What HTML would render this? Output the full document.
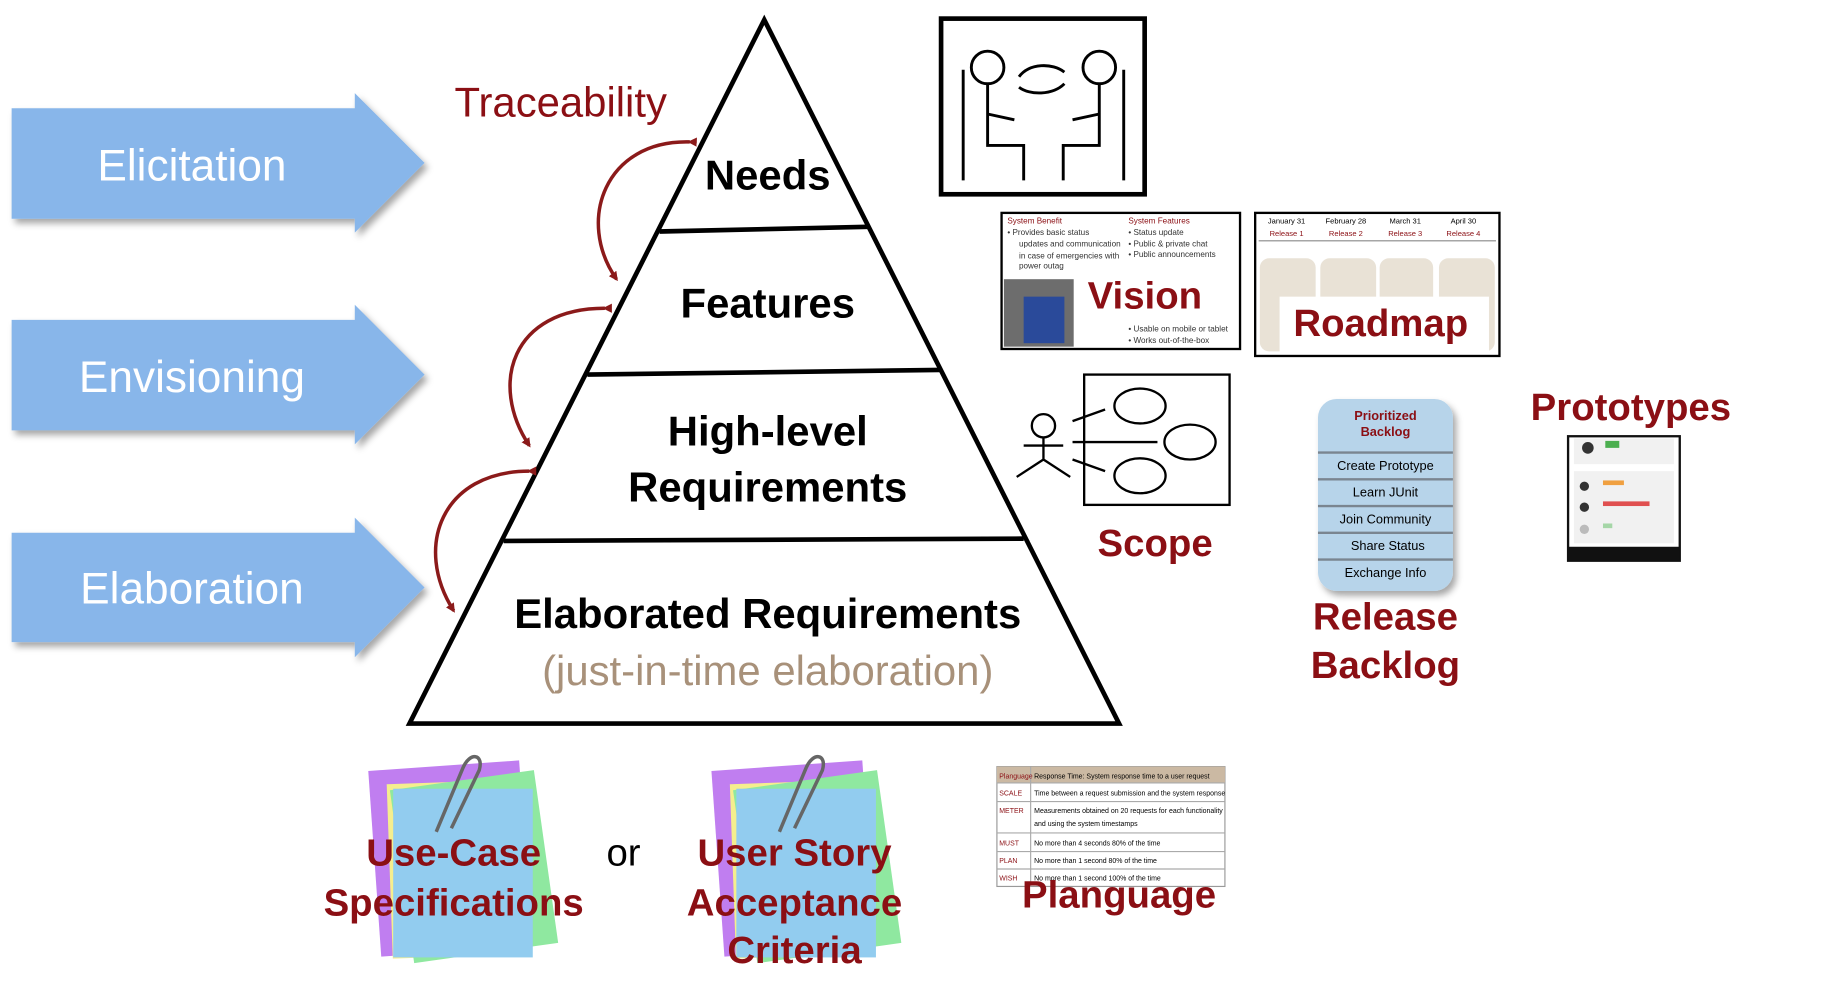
<!DOCTYPE html>
<html><head><meta charset="utf-8"><style>
html,body{margin:0;padding:0;background:#fff;width:1824px;height:983px;overflow:hidden}
svg{display:block}
text{font-family:"Liberation Sans","DejaVu Sans",sans-serif}
.r{fill:#8b0f14;font-weight:bold}
</style></head><body>
<svg width="1824" height="983" viewBox="0 0 1568 845" preserveAspectRatio="none" xmlns="http://www.w3.org/2000/svg">
<defs>
<marker id="ah" markerWidth="8" markerHeight="8" refX="6" refY="4" orient="auto" markerUnits="userSpaceOnUse"><path d="M0,0 L8,4 L0,8 Z" fill="#8b1a1a"/></marker>
<filter id="sh"><feDropShadow dx="3" dy="4" stdDeviation="3" flood-color="#000" flood-opacity="0.35"/></filter>
</defs>
<g fill="#88b6ea" filter="url(#sh)">
<path d="M10,93 H305 V80 L365,140 L305,200 V188 H10 Z"/>
<path d="M10,275 H305 V262 L365,322 L305,382 V370 H10 Z"/>
<path d="M10,458 H305 V445 L365,505 L305,565 V552 H10 Z"/>
</g>
<g fill="#fff" font-size="38" text-anchor="middle">
<text x="165" y="155">Elicitation</text>
<text x="165" y="337">Envisioning</text>
<text x="165" y="519">Elaboration</text>
</g>
<g stroke="#000" stroke-width="4" fill="none">
<path d="M657,17 L352,622 L962,622 Z" fill="#fff"/>
<line x1="567" y1="199" x2="746" y2="195"/>
<line x1="505" y1="322" x2="808" y2="318"/>
<line x1="433" y1="465" x2="880" y2="463"/>
</g>
<g font-size="36" font-weight="bold" text-anchor="middle" fill="#000">
<text x="660" y="163">Needs</text>
<text x="660" y="273">Features</text>
<text x="660" y="383">High-level</text>
<text x="660" y="431">Requirements</text>
<text x="660" y="540">Elaborated Requirements</text>
</g>
<text x="660" y="589" font-size="36" text-anchor="middle" fill="#a8917a">(just-in-time elaboration)</text>
<text x="482" y="100" font-size="36" fill="#8b0f14" text-anchor="middle">Traceability</text>
<g stroke="#8b1a1a" stroke-width="3" fill="none">
<path d="M593,122 C520,120 495,190 530,240" marker-start="url(#ah)" marker-end="url(#ah)"/>
<path d="M520,265 C440,265 420,330 455,383" marker-start="url(#ah)" marker-end="url(#ah)"/>
<path d="M455,405 C380,405 355,470 390,525" marker-start="url(#ah)" marker-end="url(#ah)"/>
</g>
<rect x="809" y="16" width="175" height="151" fill="#fff" stroke="#000" stroke-width="4"/>
<g stroke="#000" stroke-width="2.5" fill="none">
<circle cx="849" cy="58" r="14"/><circle cx="945" cy="58" r="14"/>
<path d="M849,72 L849,125 L880,125 L880,155 M828,60 L828,155 M849,98 L872,103"/>
<path d="M945,72 L945,125 L914,125 L914,155 M966,60 L966,155 M945,98 L922,103"/>
<path d="M876,66 C885,54 905,54 915,62"/><path d="M915,72 C905,82 885,82 876,75"/>
</g>
<rect x="861" y="183" width="205" height="117" fill="#fff" stroke="#000" stroke-width="2"/>
<g font-size="7" fill="#333">
<text x="866" y="192" fill="#8b0f14">System Benefit</text><text x="970" y="192" fill="#8b0f14">System Features</text>
<text x="866" y="202">•  Provides basic status</text><text x="876" y="212">updates and communication</text><text x="876" y="222">in case of emergencies with</text><text x="876" y="231">power outag</text>
<text x="970" y="202">•  Status update</text><text x="970" y="212">•  Public &amp; private chat</text><text x="970" y="221">•  Public announcements</text>
<text x="970" y="285">•  Usable on mobile or tablet</text><text x="970" y="295">•  Works out-of-the-box</text>
</g>
<rect x="863" y="240" width="60" height="58" fill="#6d6d6d"/><rect x="880" y="255" width="35" height="40" fill="#2a4a9a"/>
<text x="935" y="265" font-size="33" class="r">Vision</text>
<rect x="1079" y="183" width="210" height="123" fill="#fff" stroke="#000" stroke-width="2"/>
<g font-size="6.5" text-anchor="middle"><text x="1106" y="192">January 31</text><text x="1157" y="192">February 28</text><text x="1208" y="192">March 31</text><text x="1258" y="192">April 30</text>
<g fill="#8b0f14"><text x="1106" y="203">Release 1</text><text x="1157" y="203">Release 2</text><text x="1208" y="203">Release 3</text><text x="1258" y="203">Release 4</text></g></g>
<line x1="1082" y1="207" x2="1286" y2="207" stroke="#888"/>
<g fill="#e9e2d6"><rect x="1083" y="222" width="48" height="80" rx="8"/><rect x="1135" y="222" width="48" height="80" rx="8"/><rect x="1186" y="222" width="46" height="80" rx="8"/><rect x="1237" y="222" width="48" height="80" rx="8"/></g>
<rect x="1100" y="255" width="180" height="48" fill="#fff"/>
<text x="1187" y="289" font-size="33" class="r" text-anchor="middle">Roadmap</text>
<rect x="932" y="322" width="125" height="112" fill="#fff" stroke="#000" stroke-width="2"/>
<g stroke="#000" stroke-width="2" fill="none">
<ellipse cx="980" cy="349" rx="22" ry="15"/><ellipse cx="1023" cy="380" rx="22" ry="15"/><ellipse cx="980" cy="409" rx="22" ry="15"/>
<circle cx="897" cy="366" r="10"/><path d="M897,376 V395 M880,383 H914 M897,395 L874,410 M897,395 L920,410"/>
<path d="M922,362 L950,352 M922,380 L995,380 M922,395 L950,405"/>
</g>
<text x="993" y="478" font-size="33" class="r" text-anchor="middle">Scope</text>
<rect x="1133" y="343" width="116" height="165" rx="16" fill="#b7d4ea" filter="url(#sh)"/>
<g font-size="11" text-anchor="middle"><text x="1191" y="361" class="r">Prioritized</text><text x="1191" y="375" class="r">Backlog</text>
<text x="1191" y="404">Create Prototype</text><text x="1191" y="427">Learn JUnit</text><text x="1191" y="450">Join Community</text><text x="1193" y="473">Share Status</text><text x="1191" y="496">Exchange Info</text></g>
<g stroke="#7a8590" stroke-width="2"><line x1="1133" y1="389" x2="1249" y2="389"/><line x1="1133" y1="412" x2="1249" y2="412"/><line x1="1133" y1="435" x2="1249" y2="435"/><line x1="1133" y1="458" x2="1249" y2="458"/><line x1="1133" y1="481" x2="1249" y2="481"/></g>
<text x="1191" y="541" font-size="33" class="r" text-anchor="middle">Release</text>
<text x="1191" y="583" font-size="33" class="r" text-anchor="middle">Backlog</text>
<text x="1402" y="361" font-size="33" class="r" text-anchor="middle">Prototypes</text>
<rect x="1348" y="375" width="96" height="107" fill="#fff" stroke="#111" stroke-width="2"/>
<rect x="1353" y="377" width="86" height="22" fill="#f1f1f1"/><rect x="1353" y="405" width="86" height="62" fill="#f1f1f1"/>
<circle cx="1365" cy="385" r="5" fill="#333"/><rect x="1380" y="379" width="12" height="6" fill="#4caf50"/>
<circle cx="1362" cy="418" r="4" fill="#333"/><rect x="1378" y="413" width="18" height="4" fill="#f0a040"/>
<circle cx="1362" cy="436" r="4" fill="#333"/><rect x="1378" y="431" width="40" height="4" fill="#e05050"/>
<circle cx="1362" cy="455" r="4" fill="#bbb"/><rect x="1378" y="450" width="8" height="4" fill="#a5d6a7"/>
<rect x="1348" y="470" width="96" height="12" fill="#111"/>
<g>
<rect x="322" y="658" width="130" height="160" fill="#c07ef0" transform="rotate(-4 387 738)"/>
<rect x="335" y="672" width="120" height="150" fill="#f5ee8e" transform="rotate(-2 395 747)"/>
<rect x="345" y="670" width="125" height="150" fill="#8fe8a0" transform="rotate(-8 407 745)"/>
<rect x="338" y="678" width="120" height="145" fill="#92ccef"/>
<path d="M375,715 L398,660 C404,646 416,648 412,662 L388,712" stroke="#666" stroke-width="3" fill="none"/>
</g>
<g>
<rect x="617" y="658" width="130" height="160" fill="#c07ef0" transform="rotate(-4 682 738)"/>
<rect x="630" y="672" width="120" height="150" fill="#f5ee8e" transform="rotate(-2 690 747)"/>
<rect x="640" y="670" width="125" height="150" fill="#8fe8a0" transform="rotate(-8 702 745)"/>
<rect x="633" y="678" width="120" height="145" fill="#92ccef"/>
<path d="M670,715 L693,660 C699,646 711,648 707,662 L683,712" stroke="#666" stroke-width="3" fill="none"/>
</g>
<g font-size="33" class="r" text-anchor="middle">
<text x="390" y="744">Use-Case</text><text x="390" y="787">Specifications</text>
<text x="683" y="744">User Story</text><text x="683" y="787">Acceptance</text><text x="683" y="828">Criteria</text>
</g>
<text x="536" y="744" font-size="33" text-anchor="middle">or</text>
<rect x="857" y="659" width="196" height="103" fill="#fff" stroke="#999"/>
<rect x="857" y="659" width="196" height="14" fill="#cbb9a3"/>
<g stroke="#aaa"><line x1="886" y1="659" x2="886" y2="762"/><line x1="857" y1="673" x2="1053" y2="673"/><line x1="857" y1="689" x2="1053" y2="689"/><line x1="857" y1="716" x2="1053" y2="716"/><line x1="857" y1="732" x2="1053" y2="732"/><line x1="857" y1="747" x2="1053" y2="747"/></g>
<g font-size="6"><text x="859" y="669" fill="#8b0f14">Planguage</text><text x="889" y="669">Response Time: System response time to a user request</text>
<text x="859" y="684" fill="#8b0f14">SCALE</text><text x="889" y="684">Time between a request submission and the system response</text>
<text x="859" y="699" fill="#8b0f14">METER</text><text x="889" y="699">Measurements obtained on 20 requests for each functionality</text><text x="889" y="710">and using the system timestamps</text>
<text x="859" y="727" fill="#8b0f14">MUST</text><text x="889" y="727">No more than 4 seconds 80% of the time</text>
<text x="859" y="742" fill="#8b0f14">PLAN</text><text x="889" y="742">No more than 1 second 80% of the time</text>
<text x="859" y="757" fill="#8b0f14">WISH</text><text x="889" y="757">No more than 1 second 100% of the time</text></g>
<text x="962" y="780" font-size="33" class="r" text-anchor="middle">Planguage</text>
</svg>
</body></html>
